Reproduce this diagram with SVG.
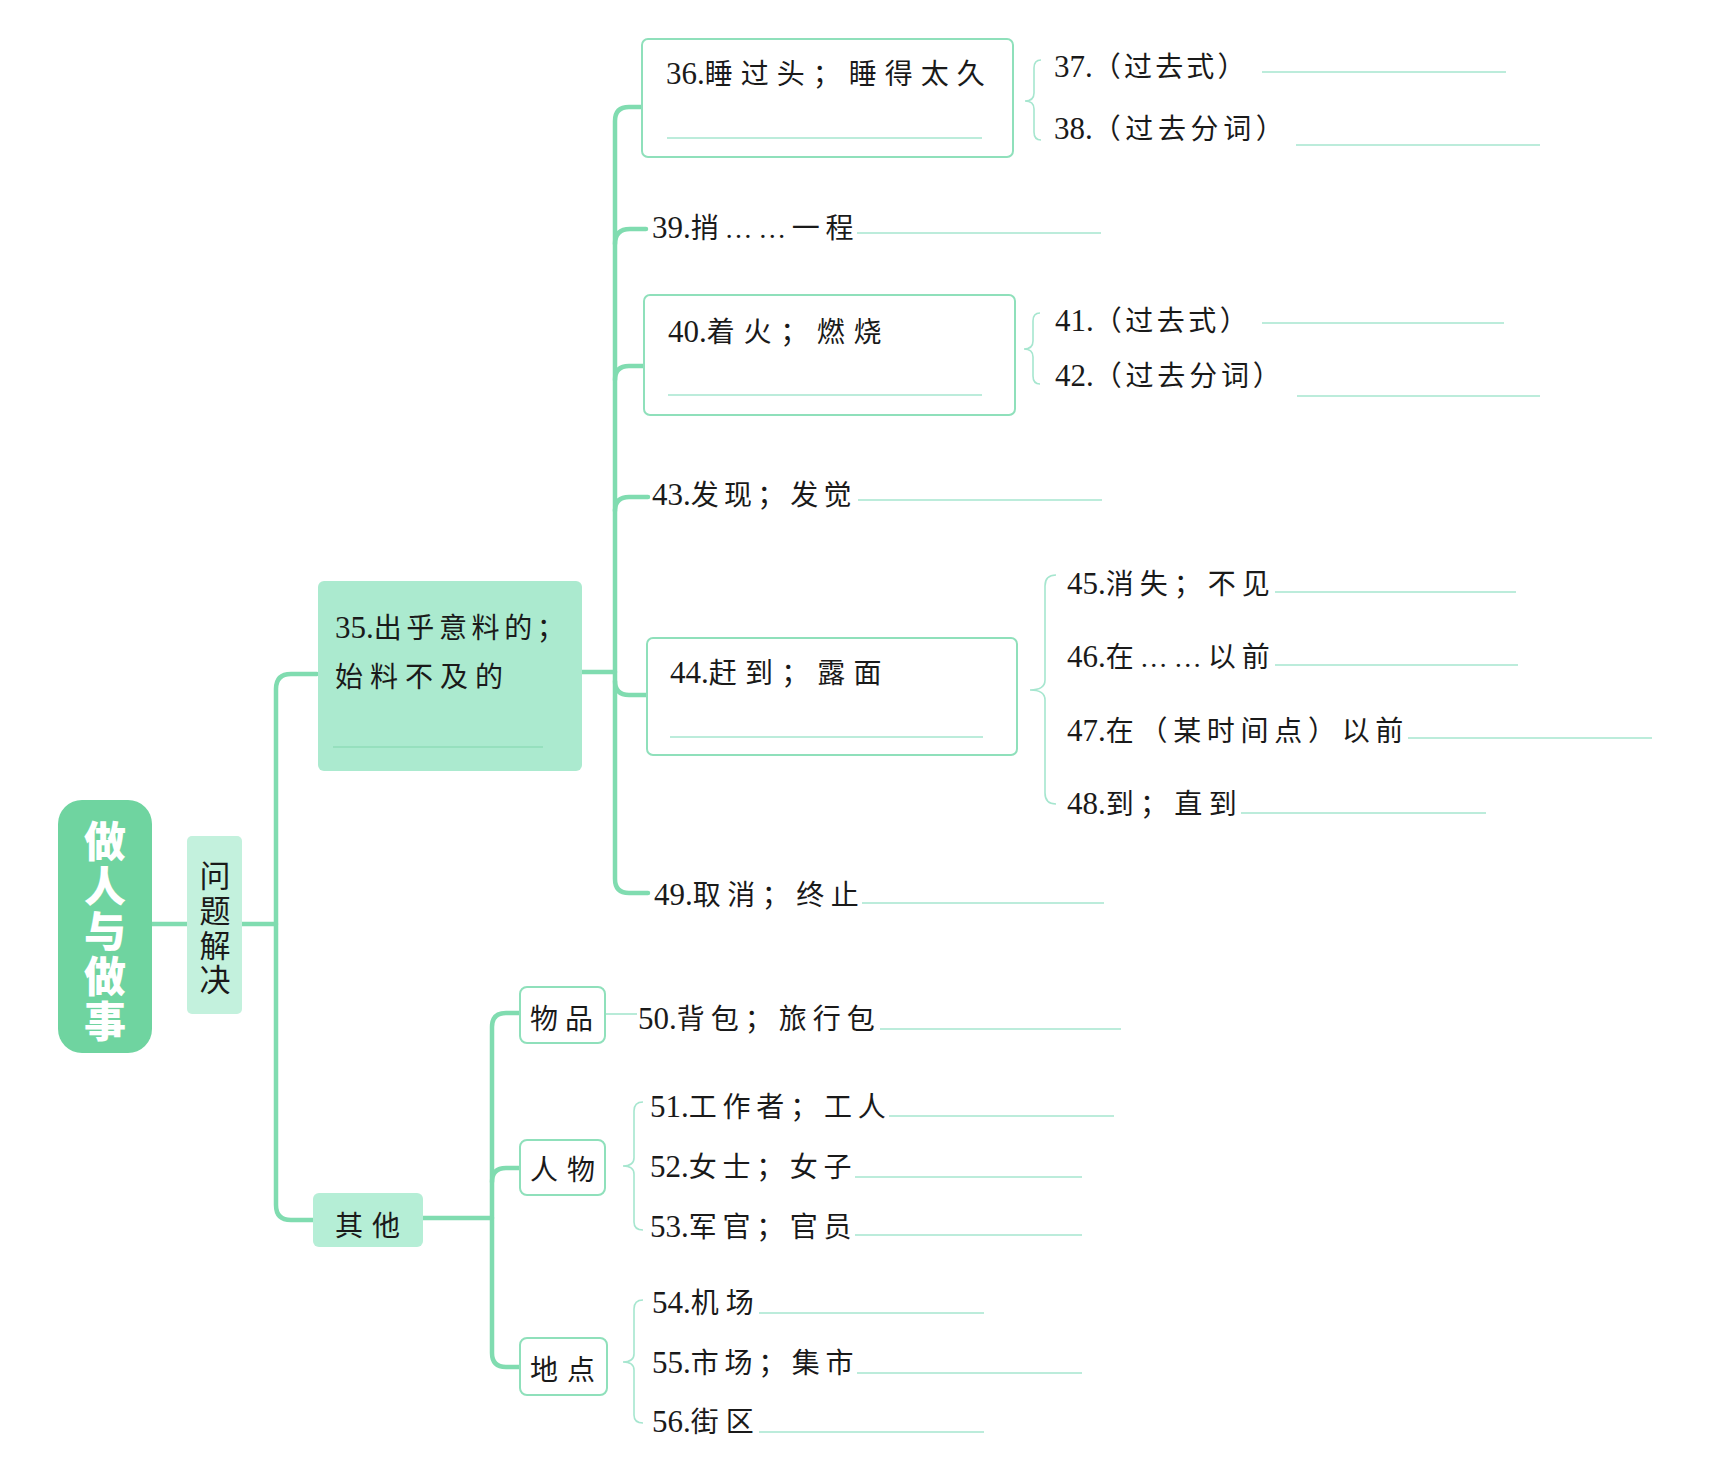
<svg xmlns="http://www.w3.org/2000/svg" width="1733" height="1475" viewBox="0 0 1733 1475">
<style>
.t{font-family:"Liberation Serif","Noto Sans CJK SC",serif;font-size:28px;fill:#1a1a1a}
.n{font-size:31px}
.box{fill:#fff;stroke:#8fe0bb;stroke-width:2}
.ul{stroke:#a6e6cf;stroke-width:1.6;fill:none}
.tr{stroke:#80dcb0;stroke-width:4.5;fill:none;stroke-linecap:round}
.br{stroke:#a6e6cf;stroke-width:1.6;fill:none}
</style>
<rect width="1733" height="1475" fill="#fff"/>
<g id="connectors">
<path class="tr" d="M152 924H187M242 924H276"/>
<path class="tr" d="M317 674H291Q276 674 276 689V1205Q276 1220 291 1220H313"/>
<path class="tr" d="M582 672H615"/>
<path class="tr" d="M642 107H629Q615 107 615 121V879Q615 893 629 893H648"/>
<path class="tr" d="M615 244Q615 229 630 229H646"/>
<path class="tr" d="M615 380Q615 366 629 366H644"/>
<path class="tr" d="M615 511Q615 497 629 497H648"/>
<path class="tr" d="M615 681Q615 695 629 695H647"/>
<path class="tr" d="M520 1013H506Q492 1013 492 1027V1353Q492 1367 506 1367H520"/>
<path class="tr" d="M423 1218H492"/>
<path class="tr" d="M492 1182Q492 1168 506 1168H520"/>
<path class="br" d="M605 1014H637"/>
<path class="br" d="M1041 60Q1034 60 1034 68V93Q1034 101 1025 101Q1034 101 1034 109V132Q1034 140 1041 140"/>
<path class="br" d="M1040 313Q1033 313 1033 321V341Q1033 349 1024 349Q1033 349 1033 357V376Q1033 384 1040 384"/>
<path class="br" d="M1056 575Q1045 575 1045 586V680Q1045 690 1030 690Q1045 690 1045 700V793Q1045 804 1056 804"/>
<path class="br" d="M643 1102Q634 1102 634 1111V1158Q634 1166 623 1166Q634 1166 634 1174V1222Q634 1230 643 1230"/>
<path class="br" d="M643 1300Q634 1300 634 1309V1354Q634 1362 623 1362Q634 1362 634 1370V1415Q634 1423 643 1423"/>
</g>
<g id="root">
<rect x="58" y="800" width="94" height="253" rx="24" fill="#6fd4a0"/>
<text x="105" y="820" font-family="Noto Sans CJK SC,sans-serif" font-size="42" font-weight="900" fill="#fff" letter-spacing="3" style="writing-mode:vertical-rl;text-orientation:upright">做人与做事</text>
</g>
<g id="n-wentijiejue">
<rect x="187" y="836" width="55" height="178" rx="5" fill="#c3f1dd"/>
<g class="t" text-anchor="middle" style="font-size:31px">
<text x="215" y="887">问</text><text x="215" y="922">题</text><text x="215" y="957">解</text><text x="215" y="991">决</text>
</g>
</g>
<g id="n35">
<rect x="318" y="581" width="264" height="190" rx="6" fill="#abeacf"/>
<text class="t" x="335" y="638"><tspan class="n">35.</tspan><tspan letter-spacing="4.6">出乎意料的；</tspan></text>
<text class="t" x="335" y="687" letter-spacing="7">始料不及的</text>
<path d="M333 747H543" stroke="#8fdcb8" stroke-width="1.6"/>
</g>
<g id="n36">
<rect class="box" x="642" y="39" width="371" height="118" rx="6"/>
<text class="t" x="666" y="84"><tspan class="n">36.</tspan><tspan letter-spacing="8">睡过头；睡得太久</tspan></text>
<path class="ul" d="M667 138H982"/>
</g>
<g id="n37"><text class="t" x="1054" y="77"><tspan class="n">37.</tspan><tspan letter-spacing="3.2">（过去式）</tspan></text><path class="ul" d="M1262 72H1506"/></g>
<g id="n38"><text class="t" x="1054" y="139"><tspan class="n">38.</tspan><tspan letter-spacing="4.6">（过去分词）</tspan></text><path class="ul" d="M1296 145H1540"/></g>
<g id="n39"><text class="t" x="652" y="238"><tspan class="n">39.</tspan><tspan letter-spacing="5.7">捎……一程</tspan></text><path class="ul" d="M857 233H1101"/></g>
<g id="n40">
<rect class="box" x="644" y="295" width="371" height="120" rx="6"/>
<text class="t" x="668" y="342"><tspan class="n">40.</tspan><tspan letter-spacing="8.7">着火；燃烧</tspan></text>
<path class="ul" d="M668 395H982"/>
</g>
<g id="n41"><text class="t" x="1055" y="331"><tspan class="n">41.</tspan><tspan letter-spacing="3.5">（过去式）</tspan></text><path class="ul" d="M1262 323H1504"/></g>
<g id="n42"><text class="t" x="1055" y="386"><tspan class="n">42.</tspan><tspan letter-spacing="3.8">（过去分词）</tspan></text><path class="ul" d="M1297 396H1540"/></g>
<g id="n43"><text class="t" x="652" y="505"><tspan class="n">43.</tspan><tspan letter-spacing="5.2">发现；发觉</tspan></text><path class="ul" d="M858 500H1102"/></g>
<g id="n44">
<rect class="box" x="647" y="638" width="370" height="117" rx="6"/>
<text class="t" x="670" y="683"><tspan class="n">44.</tspan><tspan letter-spacing="8.2">赶到；露面</tspan></text>
<path class="ul" d="M670 737H983"/>
</g>
<g id="n45"><text class="t" x="1067" y="594"><tspan class="n">45.</tspan><tspan letter-spacing="6">消失；不见</tspan></text><path class="ul" d="M1275 592H1516"/></g>
<g id="n46"><text class="t" x="1067" y="667"><tspan class="n">46.</tspan><tspan letter-spacing="6">在……以前</tspan></text><path class="ul" d="M1275 665H1518"/></g>
<g id="n47"><text class="t" x="1067" y="741"><tspan class="n">47.</tspan><tspan letter-spacing="5.7">在（某时间点）以前</tspan></text><path class="ul" d="M1408 738H1652"/></g>
<g id="n48"><text class="t" x="1067" y="814"><tspan class="n">48.</tspan><tspan letter-spacing="6.3">到；直到</tspan></text><path class="ul" d="M1241 813H1486"/></g>
<g id="n49"><text class="t" x="654" y="905"><tspan class="n">49.</tspan><tspan letter-spacing="6.5">取消；终止</tspan></text><path class="ul" d="M862 903H1104"/></g>
<g id="n-qita">
<rect x="313" y="1193" width="110" height="54" rx="6" fill="#b5eed6"/>
<text class="t" x="335" y="1236" letter-spacing="9">其他</text>
</g>
<g id="n-wupin">
<rect class="box" x="520" y="987" width="85" height="56" rx="7"/>
<text class="t" x="530" y="1029" letter-spacing="7">物品</text>
</g>
<g id="n50"><text class="t" x="638" y="1029"><tspan class="n">50.</tspan><tspan letter-spacing="6">背包；旅行包</tspan></text><path class="ul" d="M880 1029H1121"/></g>
<g id="n-renwu">
<rect class="box" x="520" y="1140" width="85" height="55" rx="7"/>
<text class="t" x="530" y="1180" letter-spacing="9">人物</text>
</g>
<g id="n51"><text class="t" x="650" y="1117"><tspan class="n">51.</tspan><tspan letter-spacing="5.8">工作者；工人</tspan></text><path class="ul" d="M889 1116H1114"/></g>
<g id="n52"><text class="t" x="650" y="1177"><tspan class="n">52.</tspan><tspan letter-spacing="5.7">女士；女子</tspan></text><path class="ul" d="M855 1177H1082"/></g>
<g id="n53"><text class="t" x="650" y="1237"><tspan class="n">53.</tspan><tspan letter-spacing="5.7">军官；官员</tspan></text><path class="ul" d="M855 1235H1082"/></g>
<g id="n-didian">
<rect class="box" x="520" y="1338" width="87" height="57" rx="7"/>
<text class="t" x="530" y="1380" letter-spacing="9">地点</text>
</g>
<g id="n54"><text class="t" x="652" y="1313"><tspan class="n">54.</tspan><tspan letter-spacing="7">机场</tspan></text><path class="ul" d="M759 1313H984"/></g>
<g id="n55"><text class="t" x="652" y="1373"><tspan class="n">55.</tspan><tspan letter-spacing="5.7">市场；集市</tspan></text><path class="ul" d="M857 1373H1082"/></g>
<g id="n56"><text class="t" x="652" y="1432"><tspan class="n">56.</tspan><tspan letter-spacing="7">街区</tspan></text><path class="ul" d="M759 1432H984"/></g>
</svg>
